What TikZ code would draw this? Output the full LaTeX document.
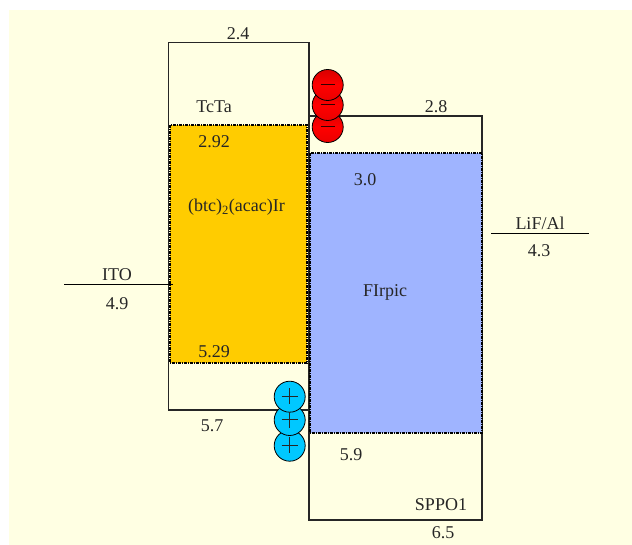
\documentclass[tikz,border=0pt]{standalone}
\usepackage{fontspec}
\setmainfont{Liberation Serif}
\usetikzlibrary{calc}
\definecolor{paper}{HTML}{FFFFE3}
\definecolor{emlayer}{HTML}{FFCC00}
\definecolor{hostlayer}{HTML}{9FB4FF}
\definecolor{holefill}{HTML}{00C8FF}
\tikzset{
    level/.style={draw=black!85,line width=1.1pt},
    doped/.style={draw=black,line width=1.2pt,dash pattern=on 3pt off 1pt on 1pt off 1pt},
    val/.style={inner sep=0pt,font=\fontsize{18}{18}\selectfont,text=black!85},
    electron/.style={circle,draw=black,line width=0.8pt,minimum size=31pt,inner sep=0pt,top color=red!85!black,bottom color=red!92!black,middle color=red},
    hole/.style={circle,draw=black,line width=0.8pt,minimum size=31pt,inner sep=0pt,fill=holefill}
}
\begin{document}
\begin{tikzpicture}[x=1pt,y=-1pt]
    \useasboundingbox (0,0) rectangle (632,545);
    \fill[white] (0,0) rectangle (632,545);
    \fill[paper] (9,10) rectangle (632,545);
    % energy levels
    \draw[level] (168.7,42.3) rectangle (309,410);
    \draw[level] (309,116) rectangle (482,520);
    \filldraw[doped,fill=emlayer] (170,125) rectangle (307,363);
    \filldraw[doped,fill=hostlayer] (310,153) rectangle (482,433);
    % electrodes
    \coordinate (itoL) at (64,285);
    \coordinate (itoR) at (173,285);
    \coordinate (lifL) at (491,234);
    \coordinate (lifR) at (589,234);
    \draw[black,line width=1pt] (itoL) -- (itoR);
    \draw[black,line width=1pt] (lifL) -- (lifR);
    % carriers
    \foreach \name/\yy in {e3/127,e2/105,e1/85}
        \node[electron] (\name) at (327.7,\yy) {};
    \foreach \name in {e1,e2,e3}
        \draw[black!80!red,line width=1pt] ($(\name)+(-7,0)$) -- ($(\name)+(7,0)$);
    \foreach \name/\yy in {h3/445.7,h2/420,h1/396.7}
        \node[hole] (\name) at (289.7,\yy) {};
    \foreach \name in {h1,h2,h3} {
        \draw[black!85,line width=0.9pt] ($(\name)+(-8,-0.5)$) -- ($(\name)+(8,-0.5)$);
        \draw[black!85,line width=0.9pt] ($(\name)+(0,-8.5)$) -- ($(\name)+(0,7.5)$);
    }
    % labels
    \node[val] (lumoA) at (238,33.5) {2.4};
    \node[val] (nameA) at (214,107) {TcTa};
    \node[val] (lumoB) at (214,142) {2.92};
    \node[val] (nameB) at (236.5,207.5) {(btc)\textsubscript{2}(acac)Ir};
    \node[val] (homoB) at (214,352) {5.29};
    \node[val] (homoA) at (212,426) {5.7};
    \node[val] (lumoC) at (436,107) {2.8};
    \node[val] (lumoD) at (365,180) {3.0};
    \node[val] (nameD) at (385,292.5) {FIrpic};
    \node[val] (homoD) at (351,455) {5.9};
    \node[val] (nameC) at (441,505) {SPPO1};
    \node[val] (homoC) at (443,533) {6.5};
    \node[val] (ito) at (117,275) {ITO};
    \node[val] (itoval) at (117,304) {4.9};
    \node[val] (lif) at (540,223) {LiF/Al};
    \node[val] (lifval) at (539,251) {4.3};
\end{tikzpicture}
\end{document}
